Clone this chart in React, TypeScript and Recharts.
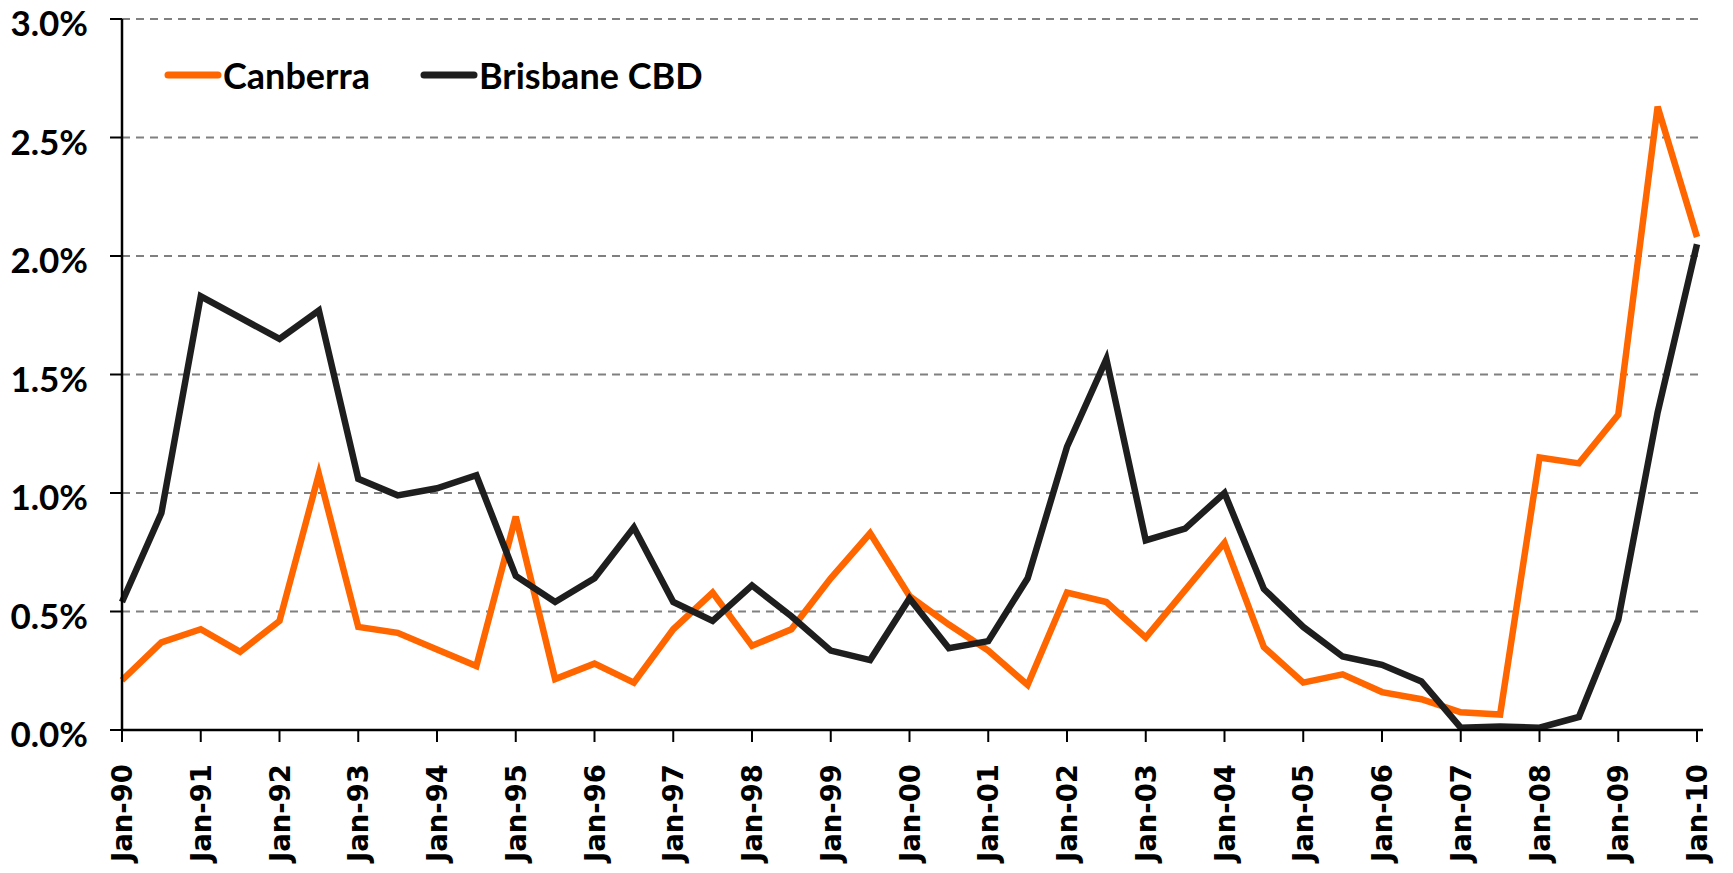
import React from 'react';
import { LineChart, Line, XAxis, YAxis, CartesianGrid, Legend } from 'recharts';

const dates = [
  'Jan-90', 'Jul-90', 'Jan-91', 'Jul-91', 'Jan-92', 'Jul-92', 'Jan-93', 'Jul-93',
  'Jan-94', 'Jul-94', 'Jan-95', 'Jul-95', 'Jan-96', 'Jul-96', 'Jan-97', 'Jul-97',
  'Jan-98', 'Jul-98', 'Jan-99', 'Jul-99', 'Jan-00', 'Jul-00', 'Jan-01', 'Jul-01',
  'Jan-02', 'Jul-02', 'Jan-03', 'Jul-03', 'Jan-04', 'Jul-04', 'Jan-05', 'Jul-05',
  'Jan-06', 'Jul-06', 'Jan-07', 'Jul-07', 'Jan-08', 'Jul-08', 'Jan-09', 'Jul-09',
  'Jan-10',
];

const canberra = [
  0.21, 0.37, 0.425, 0.33, 0.46, 1.08, 0.435, 0.41,
  0.34, 0.27, 0.9, 0.215, 0.28, 0.2, 0.425, 0.58,
  0.355, 0.425, 0.64, 0.83, 0.565, 0.445, 0.335, 0.19,
  0.58, 0.54, 0.39, 0.59, 0.79, 0.35, 0.2, 0.235,
  0.16, 0.13, 0.075, 0.065, 1.15, 1.125, 1.33, 2.63,
  2.08,
];

const brisbane = [
  0.54, 0.915, 1.83, 1.74, 1.65, 1.77, 1.06, 0.99,
  1.02, 1.075, 0.65, 0.54, 0.64, 0.855, 0.54, 0.46,
  0.61, 0.48, 0.335, 0.295, 0.555, 0.345, 0.375, 0.64,
  1.195, 1.565, 0.8, 0.85, 1.0, 0.595, 0.435, 0.31,
  0.275, 0.205, 0.01, 0.015, 0.01, 0.055, 0.465, 1.34,
  2.05,
];

const yTicks = [0, 0.5, 1, 1.5, 2, 2.5, 3];

const seriesNames = { canberra: 'Canberra', brisbane: 'Brisbane CBD' };
const seriesColors = { canberra: '#FF6600', brisbane: '#1E1E1E' };

const data = dates.map((d, i) => ({ date: d, canberra: canberra[i], brisbane: brisbane[i] }));

const XTick = (props: any) => {
  const { x, y, payload } = props;
  return (
    <text
      x={x}
      y={y}
      transform={`rotate(-90, ${x}, ${y})`}
      textAnchor="end"
      dominantBaseline="central"
      fontFamily="DejaVu Sans"
      fontWeight="bold"
      fontSize={27.5}
      fill="#000"
    >
      {payload.value}
    </text>
  );
};

const YTick = (props: any) => {
  const { x, y, payload } = props;
  return (
    <text
      x={x}
      y={y + 3}
      textAnchor="end"
      dominantBaseline="central"
      fontFamily="Lato"
      fontWeight="bold"
      fontSize={35}
      fill="#000"
    >
      {`${Number(payload.value).toFixed(1)}%`}
    </text>
  );
};

const LegendContent = () => {
  const items: Array<'canberra' | 'brisbane'> = ['canberra', 'brisbane'];
  return (
    <div style={{ display: 'flex', alignItems: 'center', fontFamily: 'Lato', fontWeight: 'bold', fontSize: 36, color: '#000' }}>
      {items.map((k, i) => (
        <div key={k} style={{ display: 'flex', alignItems: 'center', marginLeft: i === 0 ? 0 : 50 }}>
          <svg width={58} height={12} style={{ display: 'block' }}>
            <line x1={4} y1={6} x2={54} y2={6} stroke={seriesColors[k]} strokeWidth={7} strokeLinecap="round" />
          </svg>
          <span style={{ marginLeft: 1, lineHeight: '40px' }}>{seriesNames[k]}</span>
        </div>
      ))}
    </div>
  );
};

export default function App() {
  return (
    <div style={{ margin: '-8px 0 0 -8px', width: 1733, height: 873 }}>
      <LineChart
        width={1733}
        height={873}
        data={data}
        margin={{ top: 19, right: 30, left: 8, bottom: 0 }}
      >
        <CartesianGrid vertical={false} stroke="#808080" strokeDasharray="8 6" strokeWidth={2} />
        <XAxis
          dataKey="date"
          interval={1}
          height={143}
          tickSize={12}
          tickMargin={22}
          tick={<XTick />}
          axisLine={{ stroke: '#000', strokeWidth: 2.5 }}
          tickLine={{ stroke: '#000', strokeWidth: 2 }}
          padding={{ left: 0, right: 6 }}
        />
        <YAxis
          domain={[0, 3]}
          ticks={yTicks}
          width={114}
          tickSize={12}
          tickMargin={22}
          tick={<YTick />}
          axisLine={{ stroke: '#000', strokeWidth: 2.5 }}
          tickLine={{ stroke: '#000', strokeWidth: 2 }}
        />
        <Legend
          verticalAlign="middle"
          align="center"
          layout="horizontal"
          content={<LegendContent />}
          wrapperStyle={{ left: 164, top: 55, width: 'auto' }}
        />
        <Line
          type="linear"
          dataKey="canberra"
          name={seriesNames.canberra}
          stroke={seriesColors.canberra}
          strokeWidth={6.5}
          dot={false}
          isAnimationActive={false}
          strokeLinejoin="miter"
        />
        <Line
          type="linear"
          dataKey="brisbane"
          name={seriesNames.brisbane}
          stroke={seriesColors.brisbane}
          strokeWidth={6.5}
          dot={false}
          isAnimationActive={false}
          strokeLinejoin="miter"
        />
      </LineChart>
    </div>
  );
}
